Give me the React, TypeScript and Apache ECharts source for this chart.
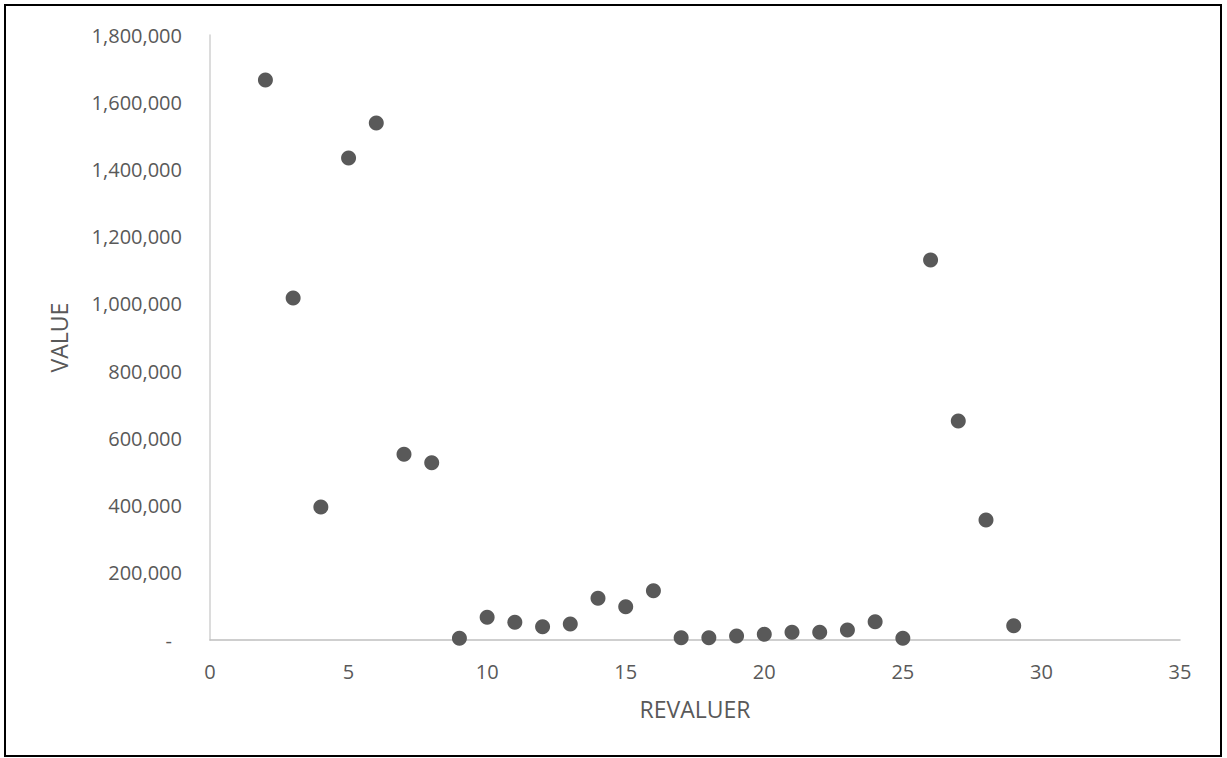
import React, { useEffect, useRef } from "react";
import * as echarts from "echarts";

const revaluer = [2, 3, 4, 5, 6, 7, 8, 9, 10, 11, 12, 13, 14, 15, 16, 17, 18, 19, 20, 21, 22, 23, 24, 25, 26, 27, 28, 29];
const values = [1666000, 1017500, 395700, 1434000, 1538000, 553000, 527000, 5000, 67500, 52700, 39600, 47600, 124000, 99000, 146700, 6800, 6800, 12000, 17000, 23000, 23000, 30000, 54500, 5000, 1130600, 651600, 357000, 42500];

const xAxisName = "REVALUER";
const yAxisName = "VALUE";

export default function App() {
  const ref = useRef<HTMLDivElement>(null);
  useEffect(() => {
    if (!ref.current) return;
    const chart = echarts.init(ref.current, null, { renderer: "svg" });
    const font = "'Open Sans', 'Noto Sans', sans-serif";
    chart.setOption({
      animation: false,
      backgroundColor: "#ffffff",
      textStyle: { fontFamily: font },
      graphic: [
        {
          type: "rect",
          shape: { x: 5, y: 5, width: 1216, height: 751 },
          style: { fill: "none", stroke: "#000000", lineWidth: 2 },
          silent: true,
        },
      ],
      grid: { left: 210, right: 47, top: 35, bottom: 118, containLabel: false },
      xAxis: {
        type: "value",
        min: 0,
        max: 35,
        interval: 5,
        name: xAxisName,
        nameLocation: "middle",
        nameGap: 57,
        nameTextStyle: { color: "#595959", fontSize: 23, fontFamily: font },
        axisLine: { show: true, lineStyle: { color: "#bfbfbf", width: 1.5 } },
        axisTick: { show: false },
        splitLine: { show: false },
        axisLabel: { color: "#595959", fontSize: 20, margin: 21, fontFamily: font },
      },
      yAxis: {
        type: "value",
        min: 0,
        max: 1800000,
        interval: 200000,
        name: yAxisName,
        nameLocation: "middle",
        nameGap: 140,
        nameTextStyle: { color: "#595959", fontSize: 23, fontFamily: font },
        axisLine: { show: true, lineStyle: { color: "#d0d0d0", width: 1.5 } },
        axisTick: { show: false },
        splitLine: { show: false },
        axisLabel: {
          color: "#595959",
          fontSize: 20,
          margin: 28,
          fontFamily: font,
          formatter: (v: number) => (v === 0 ? "{z|-}" : v.toLocaleString("en-US")),
          rich: { z: { color: "#595959", fontSize: 20, padding: [0, 10, 0, 0], fontFamily: font } },
        },
      },
      series: [
        {
          type: "scatter",
          data: revaluer.map((x, i) => [x, values[i]]),
          symbol: "circle",
          symbolSize: 15,
          itemStyle: { color: "#595959", opacity: 1 },
        },
      ],
    });
    return () => chart.dispose();
  }, []);
  return (
    <div
      ref={ref}
      style={{ position: "fixed", left: 0, top: 0, width: 1227, height: 758 }}
    />
  );
}
